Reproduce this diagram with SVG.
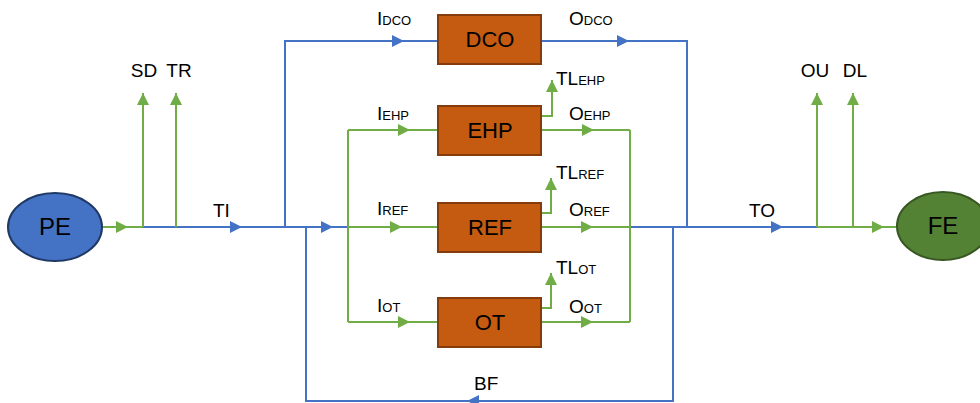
<svg xmlns="http://www.w3.org/2000/svg" width="980" height="403" viewBox="0 0 980 403">
<style>
.b{stroke:#4472C4;stroke-width:2;fill:none}
.g{stroke:#70AD47;stroke-width:2;fill:none}
.box{fill:#C55A11;stroke:#843C0C;stroke-width:2}
text{font-family:"Liberation Sans",Arial,sans-serif;fill:#000}
.lbl{font-size:19px}
.sub{font-size:13px}
.nl{font-size:22px;text-anchor:middle}
.el{font-size:24px;text-anchor:middle}
.mid{text-anchor:middle}
</style>
<defs>
<marker id="mg" viewBox="0 0 12 12" refX="12" refY="6" markerWidth="12" markerHeight="12" markerUnits="userSpaceOnUse" orient="auto"><path d="M0,0L12,6L0,12z" fill="#70AD47"/></marker>
<marker id="mb" viewBox="0 0 12 12" refX="12" refY="6" markerWidth="12" markerHeight="12" markerUnits="userSpaceOnUse" orient="auto"><path d="M0,0L12,6L0,12z" fill="#4472C4"/></marker>
</defs>
<g id="connectors">
<path class="b" d="M143,227H242" marker-end="url(#mb)"/>
<path class="b" d="M242,227H333" marker-end="url(#mb)"/>
<path class="b" d="M333,227H348"/>
<path class="b" d="M285,227V41H404" marker-end="url(#mb)"/>
<path class="b" d="M404,41H438"/>
<path class="b" d="M541,41H629" marker-end="url(#mb)"/>
<path class="b" d="M629,41H687V227"/>
<path class="b" d="M630,227H783" marker-end="url(#mb)"/>
<path class="b" d="M783,227H817"/>
<path class="b" d="M673,227V401H467" marker-end="url(#mb)"/>
<path class="b" d="M467,401H306V227"/>
<path class="g" d="M102,227H128" marker-end="url(#mg)"/>
<path class="g" d="M128,227H143"/>
<path class="g" d="M143,227V93" marker-end="url(#mg)"/>
<path class="g" d="M176,227V93" marker-end="url(#mg)"/>
<path class="g" d="M348,130V322"/>
<path class="g" d="M348,130H410" marker-end="url(#mg)"/>
<path class="g" d="M410,130H438"/>
<path class="g" d="M348,227H402" marker-end="url(#mg)"/>
<path class="g" d="M402,227H438"/>
<path class="g" d="M348,322H410" marker-end="url(#mg)"/>
<path class="g" d="M410,322H438"/>
<path class="g" d="M541,130H594" marker-end="url(#mg)"/>
<path class="g" d="M594,130H630"/>
<path class="g" d="M541,227H593" marker-end="url(#mg)"/>
<path class="g" d="M593,227H630"/>
<path class="g" d="M541,322H593" marker-end="url(#mg)"/>
<path class="g" d="M593,322H630"/>
<path class="g" d="M630,130V322"/>
<path class="g" d="M541,116H552V80" marker-end="url(#mg)"/>
<path class="g" d="M541,213H551V178" marker-end="url(#mg)"/>
<path class="g" d="M541,308H551V273" marker-end="url(#mg)"/>
<path class="g" d="M817,227V93" marker-end="url(#mg)"/>
<path class="g" d="M853,227V93" marker-end="url(#mg)"/>
<path class="g" d="M817,227H884" marker-end="url(#mg)"/>
<path class="g" d="M884,227H897"/>
</g>
<g id="labels">
<text class="lbl mid" x="144" y="77">SD</text>
<text class="lbl mid" x="179" y="77">TR</text>
<text class="lbl mid" x="815" y="77">OU</text>
<text class="lbl mid" x="855" y="77">DL</text>
<text class="lbl" x="213" y="217">TI</text>
<text class="lbl" x="749" y="217">TO</text>
<text class="lbl" x="474" y="390">BF</text>
<text class="lbl" x="377" y="25">I<tspan class="sub">DCO</tspan></text>
<text class="lbl" x="569" y="25">O<tspan class="sub">DCO</tspan></text>
<text class="lbl" x="556" y="85">TL<tspan class="sub">EHP</tspan></text>
<text class="lbl" x="377" y="120">I<tspan class="sub">EHP</tspan></text>
<text class="lbl" x="569" y="120">O<tspan class="sub">EHP</tspan></text>
<text class="lbl" x="556" y="179">TL<tspan class="sub">REF</tspan></text>
<text class="lbl" x="377" y="215">I<tspan class="sub">REF</tspan></text>
<text class="lbl" x="569" y="216">O<tspan class="sub">REF</tspan></text>
<text class="lbl" x="556" y="274">TL<tspan class="sub">OT</tspan></text>
<text class="lbl" x="377" y="312">I<tspan class="sub">OT</tspan></text>
<text class="lbl" x="569" y="313">O<tspan class="sub">OT</tspan></text>
</g>
<g id="PE">
<ellipse cx="55" cy="227" rx="47" ry="34" fill="#4472C4" stroke="#1F3864" stroke-width="2"/>
<text class="el" x="55" y="235">PE</text>
</g>
<g id="FE">
<ellipse cx="943" cy="226" rx="46" ry="34" fill="#548235" stroke="#385723" stroke-width="2"/>
<text class="el" x="943" y="234">FE</text>
</g>
<g id="DCO">
<rect class="box" x="438" y="15" width="103" height="49"/>
<text class="nl" x="490" y="47">DCO</text>
</g>
<g id="EHP">
<rect class="box" x="438" y="106" width="103" height="49"/>
<text class="nl" x="490" y="138">EHP</text>
</g>
<g id="REF">
<rect class="box" x="438" y="203" width="103" height="49"/>
<text class="nl" x="490" y="235">REF</text>
</g>
<g id="OT">
<rect class="box" x="438" y="298" width="103" height="49"/>
<text class="nl" x="490" y="330">OT</text>
</g>
</svg>
